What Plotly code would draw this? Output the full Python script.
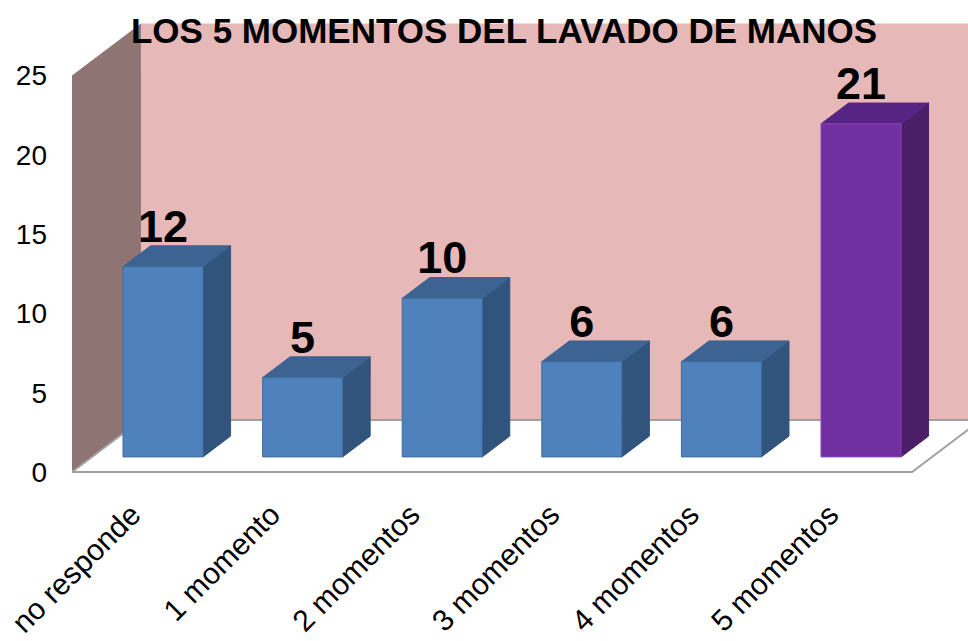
import plotly.graph_objects as go

# ---------------- data ----------------
categories = ["no responde", "1 momento", "2 momentos", "3 momentos", "4 momentos", "5 momentos"]
values = [12, 5, 10, 6, 6, 21]
y_ticks = [0, 5, 10, 15, 20, 25]
title_text = "LOS 5 MOMENTOS DEL LAVADO DE MANOS"

# ---------------- styles / geometry ----------------
FONT = "Liberation Sans, Arial, sans-serif"
DX = 0.494      # x shift (category units) for full floor depth
DY = 3.28       # y shift (value units) for full floor depth
D_FRONT, D_BACK = 0.29, 0.69   # bar depth span
HALF_W = 0.2865                 # half bar width (category units)
X0, X1 = -0.5086, 5.509         # floor / wall extent
WALL_TOP = y_ticks[-1]
LABEL_SHIFT = -0.08
LABEL_DY = -0.45

blue = dict(front="#4F81BD", side="#31547D", top="#3C6391", line="#3F6C9F")
purple = dict(front="#7030A0", side="#4A1F68", top="#582484", line="#8A45BC")
bar_styles = [blue] * 5 + [purple]


def P(x, y, d):
    return x + DX * d, y + DY * d


def poly(pts, fill, line_color, line_width=1):
    xs = [P(*p)[0] for p in pts] + [P(*pts[0])[0]]
    ys = [P(*p)[1] for p in pts] + [P(*pts[0])[1]]
    return go.Scatter(x=xs, y=ys, mode="lines", fill="toself", fillcolor=fill,
                      line=dict(color=line_color, width=line_width),
                      hoverinfo="skip", showlegend=False)


fig = go.Figure()

# back wall
fig.add_trace(poly([(X0, 0, 1), (X1 + 1, 0, 1), (X1 + 1, WALL_TOP, 1), (X0, WALL_TOP, 1)],
                   "#E6B8B7", "#E6B8B7", 0))
# side wall
fig.add_trace(poly([(X0, 0, 0), (X0, WALL_TOP, 0), (X0, WALL_TOP, 1), (X0, 0, 1)],
                   "#8E7473", "#8E7473", 0))
# floor
fig.add_trace(poly([(X0, 0, 0), (X1, 0, 0), (X1, 0, 1), (X0, 0, 1)],
                   "#FFFFFF", "#A0A0A0", 2))

# bars
for i, (v, st) in enumerate(zip(values, bar_styles)):
    xl, xr = i - HALF_W, i + HALF_W
    fig.add_trace(poly([(xr, 0, D_FRONT), (xr, 0, D_BACK), (xr, v, D_BACK), (xr, v, D_FRONT)],
                       st["side"], st["side"], 1))
    fig.add_trace(poly([(xl, v, D_FRONT), (xr, v, D_FRONT), (xr, v, D_BACK), (xl, v, D_BACK)],
                       st["top"], st["top"], 1))
    fig.add_trace(poly([(xl, 0, D_FRONT), (xr, 0, D_FRONT), (xr, v, D_FRONT), (xl, v, D_FRONT)],
                       st["front"], st["line"], 1))

# data labels
lab_x = [P(i, v, D_FRONT)[0] for i, v in enumerate(values)]
lab_y = [P(i, v, D_BACK)[1] + LABEL_DY for i, v in enumerate(values)]
fig.add_trace(go.Scatter(x=lab_x, y=lab_y, mode="text", text=[str(v) for v in values],
                         textposition="top center",
                         textfont=dict(family=FONT, size=45, color="black", weight="bold"),
                         hoverinfo="skip", showlegend=False, cliponaxis=False))

fig.update_layout(
    width=968, height=641,
    margin=dict(l=72, r=0, t=20, b=163, autoexpand=False),
    paper_bgcolor="white", plot_bgcolor="white",
    title=dict(text="<b>" + title_text + "</b>", x=504 / 968, xref="container", xanchor="center",
               y=1 - 31 / 641, yref="container", yanchor="middle",
               font=dict(family=FONT, size=35, color="black")),
    font=dict(family=FONT),
    xaxis=dict(range=[-0.5086, 5.9097],
               tickvals=[i + LABEL_SHIFT for i in range(len(categories))], ticktext=categories,
               tickangle=-45, tickfont=dict(family=FONT, size=30, color="black"),
               showgrid=False, zeroline=False, showline=False, ticks="", ticklabelstandoff=12,
               automargin=False, fixedrange=True),
    yaxis=dict(range=[-0.378, 28.5], tickvals=y_ticks, ticktext=[str(t) for t in y_ticks],
               tickfont=dict(family=FONT, size=28, color="black"),
               showgrid=False, zeroline=False, showline=False, ticks="", ticklabelstandoff=24,
               automargin=False, fixedrange=True),
)

fig.write_html("out.html",
               config={"displayModeBar": False, "staticPlot": True},
               post_script="document.body.style.margin='0';document.body.style.overflow='hidden';")
